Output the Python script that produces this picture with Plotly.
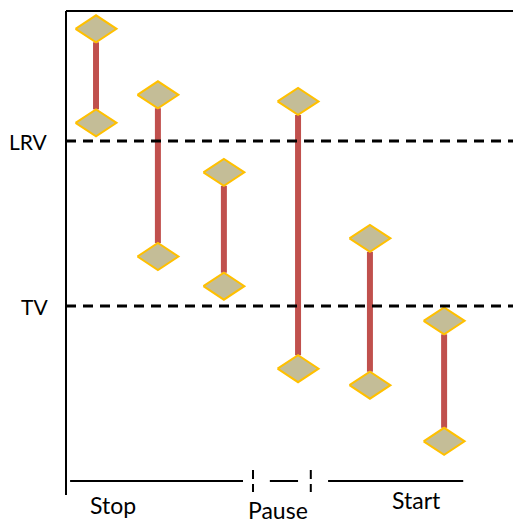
import plotly.graph_objects as go

# ---- data (time units along x, level units along y; TV = 1, LRV = 2) ----
positions = [0.66, 2.02, 3.47, 5.10, 6.68, 8.31]
upper_values = [2.68, 2.28, 1.81, 2.24, 1.41, 0.91]
lower_values = [2.11, 1.30, 1.12, 0.62, 0.52, 0.18]

ref_labels = ["LRV", "TV"]
ref_levels = [2.0, 1.0]

phase_labels = ["Stop", "Pause", "Start"]
phase_starts = [0.09, 4.48, 5.76]
phase_ends = [3.89, 5.10, 8.73]
phase_label_x = [1.03, 4.66, 7.71]
phase_dividers = [4.11, 5.38]

# ---- scale / style ----
OFF = 8          # page body margin
W, H = 521 - OFF, 520 - OFF
PX_X = 45.5      # pixels per x unit
PX_Y = 165.0     # pixels per y unit
X0_PX = 66 - OFF   # pixel of x = 0
TV_PX = 306 - OFF  # pixel of y = 1
x_range = [-X0_PX / PX_X, (W - X0_PX) / PX_X]
y_range = [1 - (H - TV_PX) / PX_Y, 1 + TV_PX / PX_Y]

HW = 20.5 / PX_X   # diamond half width
HH = 13.5 / PX_Y   # diamond half height
TOP = 1 + (306 - 11) / PX_Y
AX_BOTTOM = 1 + (306 - 495) / PX_Y
PHASE_Y = 1 + (306 - 481) / PX_Y

FONT = "Lato, 'Open Sans', sans-serif"
RED = "#C0504D"
FILL = "#C4BD97"
GOLD = "#FFC000"

fig = go.Figure()

# connecting red lines
lx, ly = [], []
for x, hi, lo in zip(positions, upper_values, lower_values):
    lx += [x, x, None]
    ly += [hi - HH, lo + HH, None]
fig.add_trace(go.Scatter(x=lx, y=ly, mode="lines",
                         line=dict(color=RED, width=6), hoverinfo="skip",
                         showlegend=False))

# diamonds
dx, dy = [], []
for x, hi, lo in zip(positions, upper_values, lower_values):
    for v in (hi, lo):
        dx += [x - HW, x, x + HW, x, x - HW, None]
        dy += [v, v + HH, v, v - HH, v, None]
fig.add_trace(go.Scatter(x=dx, y=dy, mode="lines", fill="toself",
                         fillcolor=FILL, line=dict(color=GOLD, width=2),
                         hoverinfo="skip", showlegend=False))

shapes = []
# axes frame
shapes.append(dict(type="line", xref="x", yref="y", x0=0, x1=0,
                   y0=AX_BOTTOM, y1=TOP, line=dict(color="black", width=2)))
shapes.append(dict(type="line", xref="x", yref="y", x0=0, x1=x_range[1],
                   y0=TOP, y1=TOP, line=dict(color="black", width=2)))
# reference dashed lines
for lv in ref_levels:
    shapes.append(dict(type="line", xref="x", yref="y", x0=0, x1=x_range[1],
                       y0=lv, y1=lv,
                       line=dict(color="black", width=3, dash="10px,7px")))
# phase lines
for s, e in zip(phase_starts, phase_ends):
    shapes.append(dict(type="line", xref="x", yref="y", x0=s, x1=e,
                       y0=PHASE_Y, y1=PHASE_Y,
                       line=dict(color="black", width=2)))
for d in phase_dividers:
    shapes.append(dict(type="line", xref="x", yref="y", x0=d, x1=d,
                       y0=PHASE_Y + 11 / PX_Y, y1=PHASE_Y - 11 / PX_Y,
                       line=dict(color="black", width=2, dash="9px,5px")))

annotations = []
for lab, lv in zip(ref_labels, ref_levels):
    annotations.append(dict(x=-16 / PX_X, y=lv, xref="x", yref="y",
                            text=lab, showarrow=False, xanchor="right",
                            yanchor="middle",
                            font=dict(family=FONT, size=21, color="black")))
label_offsets = [24, 29, 19]
for lab, cx, off in zip(phase_labels, phase_label_x, label_offsets):
    annotations.append(dict(x=cx, y=PHASE_Y - off / PX_Y, xref="x", yref="y",
                            text=lab, showarrow=False, xanchor="center",
                            yanchor="middle",
                            font=dict(family=FONT, size=23, color="black")))

fig.update_layout(
    width=W, height=H, autosize=False,
    margin=dict(l=0, r=0, t=0, b=0),
    paper_bgcolor="white", plot_bgcolor="white",
    xaxis=dict(range=x_range, visible=False, fixedrange=True),
    yaxis=dict(range=y_range, visible=False, fixedrange=True),
    shapes=shapes, annotations=annotations,
    showlegend=False,
)

fig.write_html("out.html")
